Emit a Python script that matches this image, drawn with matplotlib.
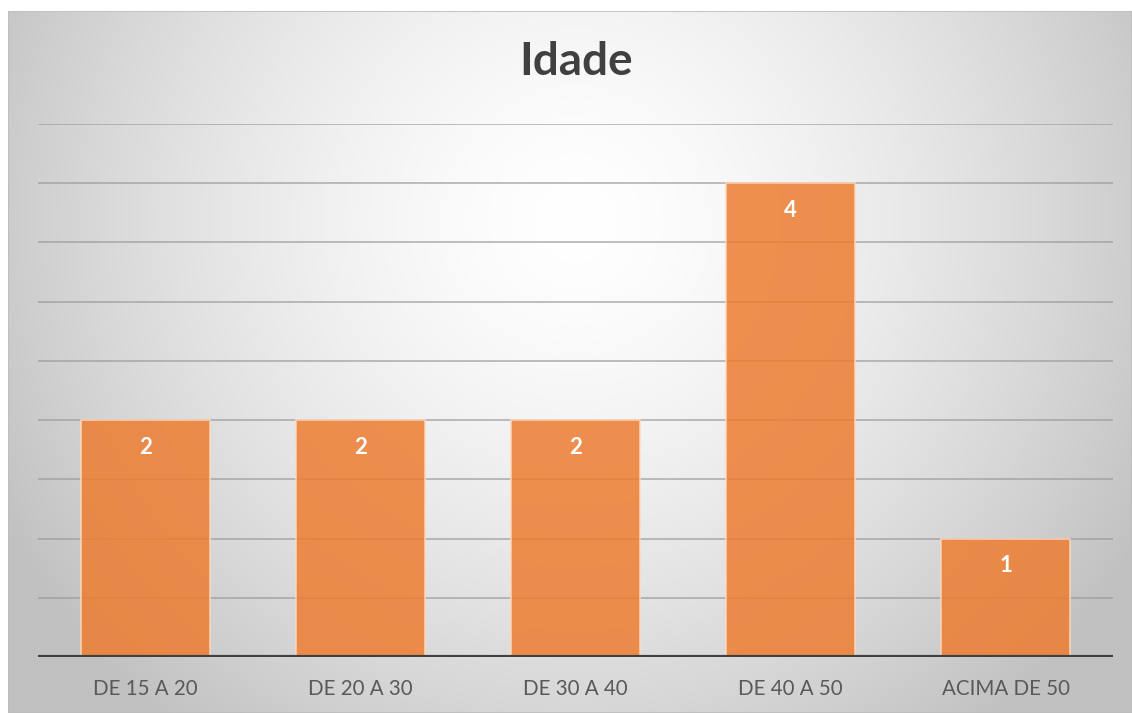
"""Bar chart of respondents by age group (Idade)."""

import numpy as np
import matplotlib.pyplot as plt
from matplotlib.patches import Rectangle

categories = ["DE 15 A 20", "DE 20 A 30", "DE 30 A 40", "DE 40 A 50", "ACIMA DE 50"]
counts = [2, 2, 2, 4, 1]
title = "Idade"

W, H = 1132, 713


def main() -> None:
    plt.rcParams["font.family"] = ["Lato", "DejaVu Sans"]
    fig = plt.figure(figsize=(W / 100, H / 100), dpi=100)
    fig.patch.set_facecolor("white")

    # radial grey-to-white background of the chart area
    x0, y0 = 8, 11
    bg = fig.add_axes([x0 / W, 0, 1 - x0 / W, (H - y0) / H])
    xs = np.arange(x0, W)
    ys = np.arange(y0, H)
    xx, yy = np.meshgrid(xs, ys)
    r = np.sqrt((xx - 575) ** 2 + (yy - 220) ** 2) / 650
    shade = 255 - 62 * np.clip(r, 0, 1) ** 1.5
    img = np.dstack([shade, shade, shade]).astype(np.uint8)
    bg.imshow(img, aspect="auto", extent=(0, 1, 0, 1), origin="upper")
    bg.add_patch(Rectangle((0, 0), 1, 1, transform=bg.transAxes, fill=False,
                           edgecolor="#bdbdbd", linewidth=1.2))
    bg.set_axis_off()

    ax = fig.add_axes([38 / W, (H - 657) / H, (1113 - 38) / W, (657 - 124) / H])
    ax.patch.set_alpha(0)
    x = np.arange(len(categories))
    ax.set_xlim(-0.5, len(categories) - 0.5)
    ax.set_ylim(0, 4.5)
    for g in np.arange(0.5, 4.51, 0.5):
        ax.axhline(g, color="#999999", linewidth=1.1, alpha=0.8, zorder=1)

    bars = ax.bar(x, counts, width=0.6, color="#ED7D31", alpha=0.85,
                  edgecolor=(1, 0.85, 0.75, 0.9), linewidth=1.2, zorder=2)
    for b, v in zip(bars, counts):
        ax.annotate(str(v), (b.get_x() + b.get_width() / 2, v),
                    xytext=(0, -27), textcoords="offset pixels",
                    ha="center", va="center", color="white",
                    fontsize=16, fontweight="bold", zorder=3)

    ax.axhline(0, color="#404040", linewidth=3, zorder=4)
    for s in ax.spines.values():
        s.set_visible(False)
    ax.set_yticks([])
    ax.set_xticks(x)
    ax.set_xticklabels(categories, fontsize=14.8, color="#595959")
    ax.tick_params(axis="x", length=0, pad=16)

    fig.text(576 / W, 1 - 62 / H, title, ha="center", va="center",
             fontsize=33, fontweight="bold", color="#404040")

    fig.savefig("out.png", dpi=100)
    plt.close(fig)


if __name__ == "__main__":
    main()
